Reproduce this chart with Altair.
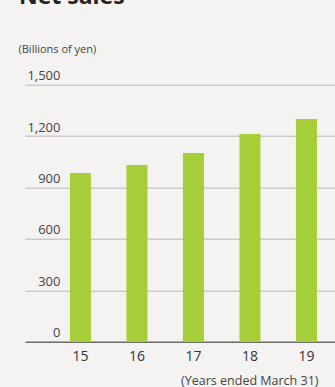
import altair as alt
import pandas as pd

years = ["15", "16", "17", "18", "19"]
net_sales = [985, 1031, 1101, 1212, 1300]

df = pd.DataFrame({"year": years, "sales": net_sales})

FONT = "Open Sans"

chart = alt.Chart(df).mark_bar(color="#a6ce39").encode(
    x=alt.X(
        "year:N",
        sort=years,
        scale=alt.Scale(paddingInner=0.628, paddingOuter=0.557, align=0.714),
        axis=alt.Axis(
            title="(Years ended March 31)",
            titleFont=FONT,
            titleFontSize=12.5,
            titleFontWeight="normal",
            titleColor="#444444",
            titleAnchor="end",
            titleAlign="right",
            titleBaseline="middle",
            titleX=293,
            titleY=39,
            labelAngle=0,
            labelFont=FONT,
            labelFontSize=14,
            labelColor="#333333",
            labelPadding=8,
            ticks=False,
            domainColor="#6f6f6f",
            domainWidth=1.5,
            grid=False,
        ),
    ),
    y=alt.Y(
        "sales:Q",
        scale=alt.Scale(domain=[0, 1500], nice=False),
        axis=alt.Axis(
            values=[0, 300, 600, 900, 1200, 1500],
            format=",d",
            title="(Billions of yen)",
            titleFont=FONT,
            titleFontSize=11,
            titleFontWeight="normal",
            titleColor="#444444",
            titleAngle=0,
            titleAlign="left",
            titleBaseline="middle",
            titleX=-7,
            titleY=-35.5,
            labelFont=FONT,
            labelFontSize=13,
            labelColor="#444444",
            labelAlign="right",
            labelBaseline="alphabetic",
            labelOffset=-5,
            labelPadding=-35,
            tickSize=0,
            ticks=False,
            domain=False,
            grid=True,
            gridColor="#b8b8b8",
            gridWidth=1,
        ),
    ),
).properties(
    width=310,
    height=257,
    autosize=alt.AutoSizeParams(type="none"),
    padding={"left": 25, "top": 84.7, "right": 0, "bottom": 45.3},
    background="#f4f3f1",
    title=alt.TitleParams(
        text="Net sales",
        font=FONT,
        fontSize=23,
        fontWeight="bold",
        color="#222222",
        anchor="start",
        frame="group",
        baseline="alphabetic",
        offset=40,
        dy=24,
        dx=-6,
    ),
).configure_view(stroke=None)

chart.save("out.html", embed_options={"renderer": "svg", "actions": False})
